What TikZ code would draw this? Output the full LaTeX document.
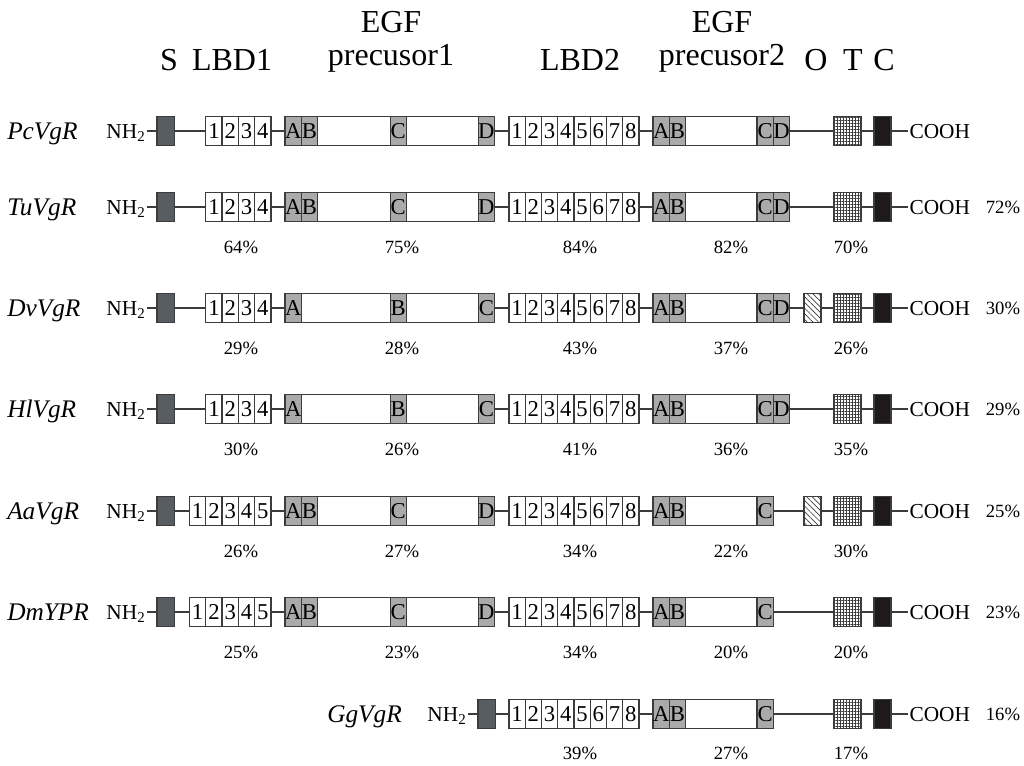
\documentclass[tikz,border=0pt]{standalone}
\usepackage{fontspec}
\setmainfont{Liberation Serif}
\usetikzlibrary{positioning,patterns.meta,backgrounds}
\definecolor{sigcol}{RGB}{88,92,99}
\definecolor{egfcol}{RGB}{170,170,170}
\definecolor{ctcol}{RGB}{30,26,26}
\definecolor{edgecol}{RGB}{60,60,60}

\begin{document}
\begin{tikzpicture}[
        x=0.75pt, y=-0.75pt, node distance=0pt,
        dom/.style={draw=edgecol, line width=1pt, minimum height=21.75pt, inner sep=0pt,
            outer sep=0pt, font=\fontsize{17}{17}\selectfont},
        num/.style={dom, fill=white, minimum width=12.2pt},
        egf/.style={dom, fill=egfcol, minimum width=12.2pt},
        gap/.style={dom, fill=white, minimum width=#1},
        sig/.style={dom, fill=sigcol, minimum width=13pt},
        obox/.style={dom, minimum width=12.75pt, preaction={fill=white},
            pattern={Lines[angle=-45,distance=3pt,line width=0.5pt]}, pattern color=edgecol},
        tbox/.style={dom, minimum width=20.25pt, preaction={fill=white},
            pattern={Hatch[distance=2.25pt,line width=0.45pt]}, pattern color=edgecol},
        cbox/.style={dom, fill=ctcol, minimum width=12.75pt},
        term/.style={inner xsep=1pt, inner ysep=0pt, text height=10.6pt, text depth=0pt,
            font=\fontsize{16}{16}\selectfont},
        species/.style={anchor=west, inner sep=0pt, text height=12.5pt, text depth=0pt,
            font=\fontsize{19}{19}\selectfont\itshape},
        ident/.style={inner sep=0pt, text height=9.2pt, text depth=0pt,
            font=\fontsize{14}{14}\selectfont},
        head/.style={anchor=base, inner sep=0pt, font=\fontsize{24}{24}\selectfont},
        backbone/.style={draw=edgecol, line width=1pt}
    ]
    \useasboundingbox (0,0) rectangle (1024,765);

    % column headings
    \node[head] (h-s) at (169,70) {S};
    \node[head] (h-lbd1) at (232,70) {LBD1};
    \node[head] (h-egf1) at (391,32) {EGF};
    \node[head] (h-pre1) at (391,65) {precusor1};
    \node[head] (h-lbd2) at (580,70) {LBD2};
    \node[head] (h-egf2) at (722,32) {EGF};
    \node[head] (h-pre2) at (722,65) {precusor2};
    \node[head] (h-o) at (816,70) {O};
    \node[head] (h-t) at (853,70) {T};
    \node[head] (h-c) at (884,70) {C};

    % one row per receptor: label/y/label x/S x/LBD1 size/EGF1 type/EGF2 has D/O box/identity
    \foreach \sp/\y/\lx/\sx/\nl/\ea/\eb/\ob/\pc in {
        PcVgR/131/7/157/4/1/1/0/0,
        TuVgR/207/7/157/4/1/1/0/72,
        DvVgR/308/7/157/4/0/1/1/30,
        HlVgR/409/7/157/4/0/1/0/29,
        AaVgR/511/7/157/5/1/0/1/25,
        DmYPR/612/7/157/5/1/0/0/23,
        GgVgR/714/327/478/0/0/0/0/16} {
        \node[species] (\sp-name) at (\lx,\y) {\sp};
        \node[term, anchor=east] (\sp-nh) at (\sx-10,\y) {NH\textsubscript{2}};
        \node[sig, anchor=west] (\sp-s) at (\sx,\y) {};
        \ifnum\nl>0
            \foreach \idx in {1,...,\nl}
                \node[num, anchor=west] (\sp-a\idx) at ({271-(\nl-\idx+1)*16.3},\y) {\idx};
            % EGF precursor 1
            \node[egf, anchor=west] (\sp-e1a) at (285,\y) {A};
            \ifnum\ea=1
                \node[egf, right=of \sp-e1a] (\sp-e1b) {B};
                \node[gap=54.4pt, right=of \sp-e1b] (\sp-e1w) {};
                \node[egf, right=of \sp-e1w] (\sp-e1c) {C};
                \node[gap=53.8pt, right=of \sp-e1c] (\sp-e1v) {};
                \node[egf, right=of \sp-e1v] (\sp-e1d) {D};
            \else
                \node[gap=66.6pt, right=of \sp-e1a] (\sp-e1w) {};
                \node[egf, right=of \sp-e1w] (\sp-e1b) {B};
                \node[gap=53.8pt, right=of \sp-e1b] (\sp-e1v) {};
                \node[egf, right=of \sp-e1v] (\sp-e1c) {C};
            \fi
        \fi
        \foreach \idx in {1,...,8}
            \node[num, anchor=west] (\sp-b\idx) at ({509+(\idx-1)*16.25},\y) {\idx};
        % EGF precursor 2
        \node[egf, anchor=west] (\sp-e2a) at (653,\y) {A};
        \node[egf, right=of \sp-e2a] (\sp-e2b) {B};
        \node[gap=53.6pt, right=of \sp-e2b] (\sp-e2w) {};
        \node[egf, right=of \sp-e2w] (\sp-e2c) {C};
        \ifnum\eb=1
            \node[egf, right=of \sp-e2c] (\sp-e2d) {D};
        \fi
        \ifnum\ob=1
            \node[obox, anchor=west] (\sp-o) at (804,\y) {};
        \fi
        \node[tbox, anchor=west] (\sp-t) at (834,\y) {};
        \node[cbox, anchor=west] (\sp-c) at (874,\y) {};
        \node[term, anchor=west] (\sp-cooh) at (908,\y) {COOH};
        \ifnum\pc>0
            \node[ident] (\sp-pc) at (1003,\y) {\pc\%};
        \fi
        \begin{pgfonlayer}{background}
            \draw[backbone] (\sp-nh) -- (\sp-cooh);
        \end{pgfonlayer}
    }

    % identities per domain
    \foreach \y/\a/\b/\c/\d/\e in {
        247/64/75/84/82/70,
        348/29/28/43/37/26,
        449/30/26/41/36/35,
        551/26/27/34/22/30,
        652/25/23/34/20/20} {
        \node[ident] (id\y-1) at (241,\y) {\a\%};
        \node[ident] (id\y-2) at (402,\y) {\b\%};
        \node[ident] (id\y-3) at (580,\y) {\c\%};
        \node[ident] (id\y-4) at (731,\y) {\d\%};
        \node[ident] (id\y-5) at (851,\y) {\e\%};
    }
    \node[ident] (id753-3) at (580,753) {39\%};
    \node[ident] (id753-4) at (731,753) {27\%};
    \node[ident] (id753-5) at (851,753) {17\%};
\end{tikzpicture}
\end{document}
